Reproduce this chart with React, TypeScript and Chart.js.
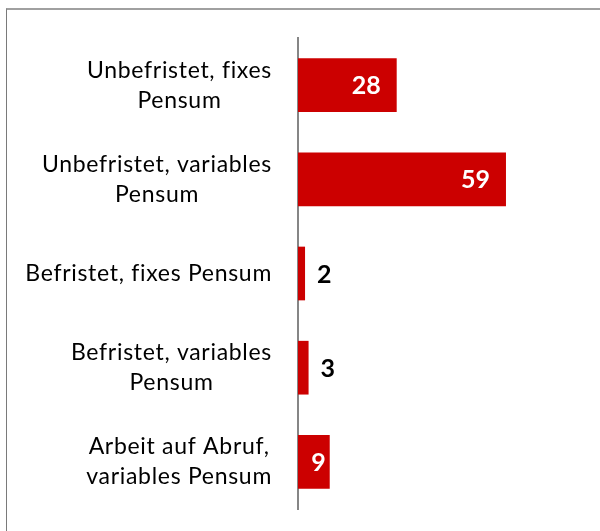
import React, { useEffect, useRef } from "react";
import { Chart, registerables } from "chart.js";

Chart.register(...registerables);

const categories: string[][] = [
  ["Unbefristet, fixes", "Pensum"],
  ["Unbefristet, variables", "Pensum"],
  ["Befristet, fixes Pensum"],
  ["Befristet, variables", "Pensum"],
  ["Arbeit auf Abruf,", "variables Pensum"],
];
const values: number[] = [28, 59, 2, 3, 9];
const axisMax = 80;

const FONT = "Lato, 'Open Sans', sans-serif";
const BAR_COLOR = "#cc0000";

// Category labels: each block of lines is centred on itself and right-aligned against the axis.
const categoryLabels = {
  id: "categoryLabels",
  afterDraw(chart: any) {
    const ctx = chart.ctx;
    const scale = chart.scales.y;
    const right = chart.chartArea.left - 26;
    const lineHeight = 30;
    ctx.save();
    ctx.font = `23px ${FONT}`;
    (ctx as any).letterSpacing = "0.7px";
    ctx.fillStyle = "#000000";
    ctx.textAlign = "center";
    ctx.textBaseline = "middle";
    categories.forEach((lines, i) => {
      const yc = scale.getPixelForValue(i);
      const maxW = Math.max(...lines.map((l) => ctx.measureText(l).width));
      const xc = right - maxW / 2;
      const y0 = yc - ((lines.length - 1) * lineHeight) / 2;
      lines.forEach((line, j) => ctx.fillText(line, xc, y0 + j * lineHeight));
    });
    ctx.restore();
  },
};

// Value labels: white inside the bar end for wide bars, black just past the end for thin ones.
const valueLabels = {
  id: "valueLabels",
  afterDatasetsDraw(chart: any) {
    const ctx = chart.ctx;
    const meta = chart.getDatasetMeta(0);
    ctx.save();
    ctx.font = `bold 25px ${FONT}`;
    ctx.textBaseline = "middle";
    ctx.textAlign = "left";
    meta.data.forEach((bar: any, i: number) => {
      const text = String(values[i]);
      const w = ctx.measureText(text).width;
      const len = bar.x - bar.base;
      let x: number;
      if (len > 60) {
        ctx.fillStyle = "#ffffff";
        x = bar.x - 16 - w;
      } else if (len > 25) {
        ctx.fillStyle = "#ffffff";
        x = bar.x - 4 - w;
      } else {
        ctx.fillStyle = "#000000";
        x = bar.x + 12;
      }
      ctx.fillText(text, x, bar.y + 1);
    });
    ctx.restore();
  },
};

export default function App() {
  const ref = useRef<HTMLCanvasElement | null>(null);

  useEffect(() => {
    if (!ref.current) return;
    const chart = new Chart(ref.current, {
      type: "bar",
      data: {
        labels: categories,
        datasets: [
          {
            data: values,
            backgroundColor: BAR_COLOR,
            borderWidth: 0,
            categoryPercentage: 1,
            barPercentage: 0.57,
          },
        ],
      },
      options: {
        indexAxis: "y",
        animation: false,
        responsive: false,
        maintainAspectRatio: false,
        layout: { padding: { top: 38, bottom: 22, left: 0, right: 20 } },
        plugins: {
          legend: { display: false },
          tooltip: { enabled: false },
        },
        scales: {
          x: {
            display: false,
            min: 0,
            max: axisMax,
          },
          y: {
            grid: { display: false },
            border: { display: true, color: "#868686", width: 2 },
            ticks: { display: false },
            afterFit(scale: any) {
              scale.width = 298;
              scale.paddingTop = 0;
              scale.paddingBottom = 0;
            },
          },
        },
      },
      plugins: [valueLabels, categoryLabels],
    });
    return () => chart.destroy();
  }, []);

  return (
    <div
      style={{
        position: "fixed",
        left: 0,
        top: 0,
        width: 600,
        height: 531,
        background: "#ffffff",
        overflow: "hidden",
      }}
    >
      <div
        style={{
          position: "absolute",
          left: 6,
          top: 8,
          width: 700,
          height: 700,
          borderTop: "2px solid #a0a0a0",
          borderLeft: "1px solid #7a7a7a",
        }}
      />
      <canvas
        ref={ref}
        width={600}
        height={531}
        style={{ position: "absolute", left: 0, top: 0 }}
      />
    </div>
  );
}
